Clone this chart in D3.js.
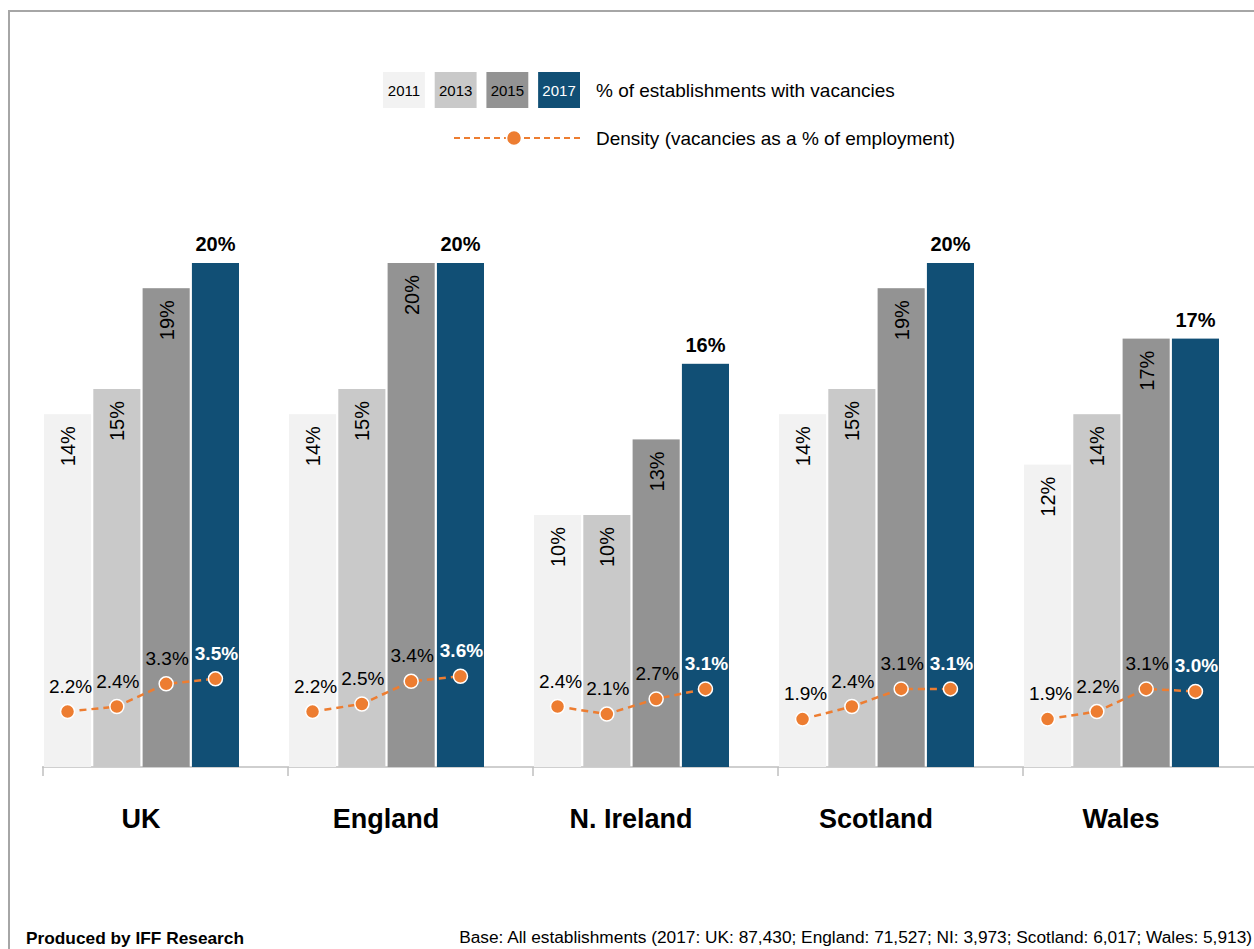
<!DOCTYPE html>
<html>
<head>
<meta charset="utf-8">
<script src="https://cdn.jsdelivr.net/npm/d3@7"></script>
<style>
    body { margin: 0; background: #fff; }
    svg { display: block; font-family: Arial, "Liberation Sans", sans-serif; }
    .axis path, .axis line { stroke: #bfbfbf; stroke-width: 1.5; }
</style>
</head>
<body>
<svg id="chart" width="1254" height="949"></svg>
<script>
// data
var nations = ["UK", "England", "N. Ireland", "Scotland", "Wales"];
var years = ["2011", "2013", "2015", "2017"];
var yearColors = ["#f2f2f2", "#c9c9c9", "#939393", "#114f75"];

var pctVacancies = [
    [14, 15, 19, 20],
    [14, 15, 20, 20],
    [10, 10, 13, 16],
    [14, 15, 19, 20],
    [12, 14, 17, 17]
];
var density = [
    [2.2, 2.4, 3.3, 3.5],
    [2.2, 2.5, 3.4, 3.6],
    [2.4, 2.1, 2.7, 3.1],
    [1.9, 2.4, 3.1, 3.1],
    [1.9, 2.2, 3.1, 3.0]
];

var orange = "#ed7d31";
var svg = d3.select("#chart");

// frame
svg.append("rect")
    .attr("x", 9).attr("y", 11)
    .attr("width", 1300).attr("height", 1000)
    .attr("fill", "none")
    .attr("stroke", "#a6a6a6")
    .attr("stroke-width", 2);

var baseY = 767;
var x0 = d3.scaleBand().domain(nations).range([43, 43 + 245 * nations.length]);
var x1 = d3.scaleBand().domain(years).range([1, 196]).paddingInner(0.045);
var y = d3.scaleLinear().domain([0, 20]).range([baseY, 263]);

// x axis: line + tick marks only
var xAxis = d3.axisBottom(x0).tickSize(9).tickFormat("").tickSizeOuter(0);
var axisG = svg.append("g")
    .attr("class", "axis")
    .attr("transform", "translate(0," + baseY + ")")
    .call(xAxis);
axisG.select(".domain").attr("d", "M42,0H1254");
// ticks sit at band starts, not centres
axisG.selectAll(".tick").attr("transform", function(d) { return "translate(" + x0(d) + ",0)"; });

var groups = svg.append("g")
    .selectAll("g.group")
    .data(nations)
    .enter().append("g")
    .attr("class", "group")
    .attr("transform", function(d) { return "translate(" + x0(d) + ",0)"; });

function cx(j) { return x1(years[j]) + x1.bandwidth() / 2; }

groups.each(function(nation, i) {
    var g = d3.select(this);
    var vals = pctVacancies[i];

    g.selectAll("rect.bar")
        .data(vals)
        .enter().append("rect")
        .attr("class", "bar")
        .attr("x", function(d, j) { return x1(years[j]); })
        .attr("width", x1.bandwidth())
        .attr("y", function(d) { return y(d); })
        .attr("height", function(d) { return baseY - y(d); })
        .attr("fill", function(d, j) { return yearColors[j]; });

    // rotated labels inside the first three bars
    g.selectAll("text.inlab")
        .data(vals.slice(0, 3))
        .enter().append("text")
        .attr("class", "inlab")
        .attr("transform", function(d, j) { return "translate(" + (cx(j) + 7.5) + "," + (y(d) + 12) + ") rotate(-90)"; })
        .attr("text-anchor", "end")
        .attr("font-size", 20)
        .attr("fill", "#000")
        .text(function(d) { return d + "%"; });

    // bold label above the 2017 bar
    g.append("text")
        .attr("x", cx(3))
        .attr("y", y(vals[3]) - 12)
        .attr("text-anchor", "middle")
        .attr("font-size", 20)
        .attr("font-weight", "bold")
        .text(vals[3] + "%");

    // density line
    var dens = density[i];
    var line = d3.line()
        .x(function(d, j) { return cx(j); })
        .y(function(d) { return y(d); });

    g.append("path")
        .attr("d", line(dens))
        .attr("fill", "none")
        .attr("stroke", orange)
        .attr("stroke-width", 2.5)
        .attr("stroke-dasharray", "7,5");

    g.selectAll("circle")
        .data(dens)
        .enter().append("circle")
        .attr("cx", function(d, j) { return cx(j); })
        .attr("cy", function(d) { return y(d); })
        .attr("r", 7)
        .attr("fill", orange)
        .attr("stroke", "#fff")
        .attr("stroke-width", 1.5);

    g.selectAll("text.dlab")
        .data(dens)
        .enter().append("text")
        .attr("class", "dlab")
        .attr("x", function(d, j) { return cx(j) + (j === 0 ? 3 : 1); })
        .attr("y", function(d) { return y(d) - 19; })
        .attr("text-anchor", "middle")
        .attr("font-size", 19)
        .attr("font-weight", function(d, j) { return j === 3 ? "bold" : "normal"; })
        .attr("fill", function(d, j) { return j === 3 ? "#fff" : "#000"; })
        .text(function(d) { return d3.format(".1f")(d) + "%"; });

    // category name
    g.append("text")
        .attr("x", 98)
        .attr("y", 828)
        .attr("text-anchor", "middle")
        .attr("font-size", 27)
        .attr("font-weight", "bold")
        .text(nation);
});

// legend
var legend = svg.append("g");
var boxX = d3.scaleBand().domain(years).range([383, 580]).paddingInner(0.19);

legend.selectAll("rect")
    .data(years)
    .enter().append("rect")
    .attr("x", function(d) { return boxX(d); })
    .attr("y", 72)
    .attr("width", boxX.bandwidth())
    .attr("height", 36)
    .attr("fill", function(d, j) { return yearColors[j]; });

legend.selectAll("text.yr")
    .data(years)
    .enter().append("text")
    .attr("class", "yr")
    .attr("x", function(d) { return boxX(d) + boxX.bandwidth() / 2; })
    .attr("y", 95.5)
    .attr("text-anchor", "middle")
    .attr("font-size", 15)
    .attr("fill", function(d, j) { return j === 3 ? "#fff" : "#000"; })
    .text(function(d) { return d; });

legend.append("text")
    .attr("x", 596).attr("y", 97)
    .attr("font-size", 19)
    .text("% of establishments with vacancies");

legend.append("line")
    .attr("x1", 454).attr("x2", 580)
    .attr("y1", 138).attr("y2", 138)
    .attr("stroke", orange)
    .attr("stroke-width", 2)
    .attr("stroke-dasharray", "6,4");

legend.append("circle")
    .attr("cx", 514).attr("cy", 138).attr("r", 7.5)
    .attr("fill", orange)
    .attr("stroke", "#fff")
    .attr("stroke-width", 1.5);

legend.append("text")
    .attr("x", 596).attr("y", 145)
    .attr("font-size", 19)
    .text("Density (vacancies as a % of employment)");

// footer
svg.append("text")
    .attr("x", 26).attr("y", 944)
    .attr("font-size", 17.3)
    .attr("font-weight", "bold")
    .text("Produced by IFF Research");

svg.append("text")
    .attr("x", 1252).attr("y", 943)
    .attr("text-anchor", "end")
    .attr("font-size", 17.3)
    .text("Base: All establishments (2017: UK: 87,430; England: 71,527; NI: 3,973; Scotland: 6,017; Wales: 5,913)");
</script>
</body>
</html>
